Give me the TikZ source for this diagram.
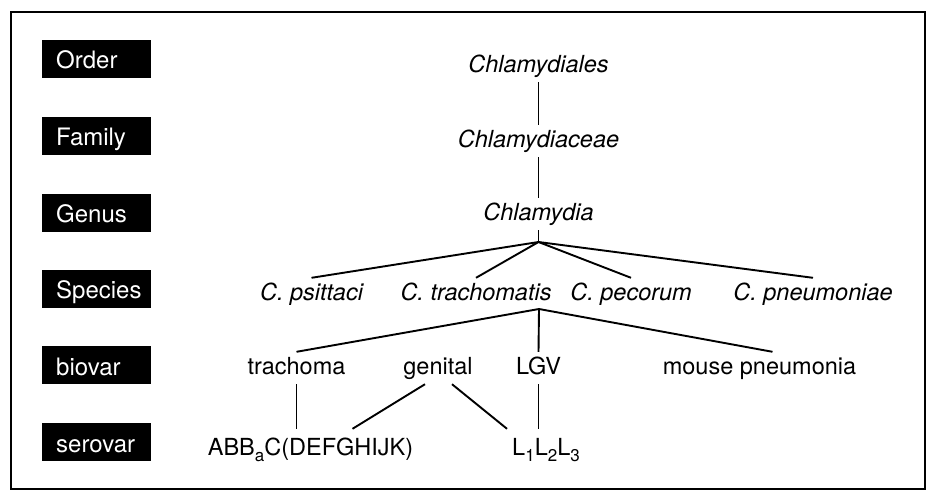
\documentclass[tikz,border=0pt]{standalone}
\usepackage{fontspec}
\setmainfont{TeX Gyre Heros}
\usetikzlibrary{calc}

\newcommand{\lowsub}[1]{\raisebox{-6pt}{\fontsize{17}{17}\selectfont #1}}

\begin{document}
\begin{tikzpicture}[x=1pt, y=-1pt,
    rank/.style={fill=black, text=white, anchor=west, minimum height=38pt,
        text width=81pt, inner xsep=14pt, inner ysep=0pt, align=left,
        text height=20pt, text depth=0pt, font=\fontsize{24}{26}\selectfont},
    taxon/.style={anchor=base, inner xsep=2pt, inner ysep=5pt,
        text height=17pt, text depth=5pt, font=\fontsize{23.5}{26}\selectfont},
    link/.style={line width=1.9pt}]
    \useasboundingbox (0,0) rectangle (933,498);
    \draw[line width=2pt] (11,12) rectangle (925,489);

    % rank labels on the left
    \foreach \name/\y/\txt in {order/58.5/Order, family/135.5/Family, genus/212.5/Genus,
        species/288.5/Species, biovar/365/biovar, serovar/442/serovar}
        \node[rank] (\name) at (42,\y) {\txt};

    % taxa
    \node[taxon] (dial) at (538.5,72) {\itshape Chlamydiales};
    \node[taxon] (ceae) at (538.5,147) {\itshape Chlamydiaceae};
    \node[taxon] (chla) at (538.5,220) {\itshape Chlamydia};

    \node[taxon] (psit) at (311.5,300) {\itshape C. psittaci};
    \node[taxon] (trach) at (476,300) {\itshape C. trachomatis};
    \node[taxon] (peco) at (631,300) {\itshape C. pecorum};
    \node[taxon] (pneu) at (813,300) {\itshape C. pneumoniae};

    \node[taxon] (trachoma) at (296.5,374) {trachoma};
    \node[taxon] (genital) at (438,374) {genital};
    \node[taxon] (lgv) at (538.5,374) {LGV};
    \node[taxon] (mouse) at (759.5,374) {mouse pneumonia};

    \node[taxon, inner ysep=9pt] (abb) at (310.5,455) {ABB\lowsub{a}C(DEFGHIJK)};
    \node[taxon, inner ysep=9pt] (lser) at (546,455) {L\lowsub{1}L\lowsub{2}L\lowsub{3}};

    \coordinate (gj) at (538.5,242);
    \coordinate (tj) at (539,309);

    % connectors
    \draw[link] (dial.south) -- (ceae.north);
    \draw[link] (ceae.south) -- (chla.north);
    \draw[link] (chla.south) -- (gj);
    \foreach \s in {psit, trach, peco, pneu}
        \draw[link] (gj) -- (\s.north);

    \draw[link] (tj) -- (trachoma.north);
    \draw[link] (tj) -- (lgv.north);
    \draw[link] (tj) -- ([xshift=13pt]mouse.north);

    \draw[link] (trachoma.south) -- (trachoma.south |- abb.north);
    \draw[link] ([xshift=-13pt]genital.south) -- ([xshift=42pt]abb.north);
    \draw[link] ([xshift=14pt]genital.south) -- ([xshift=-39pt]lser.north);
    \draw[link] (lgv.south) -- (lgv.south |- lser.north);
\end{tikzpicture}
\end{document}
